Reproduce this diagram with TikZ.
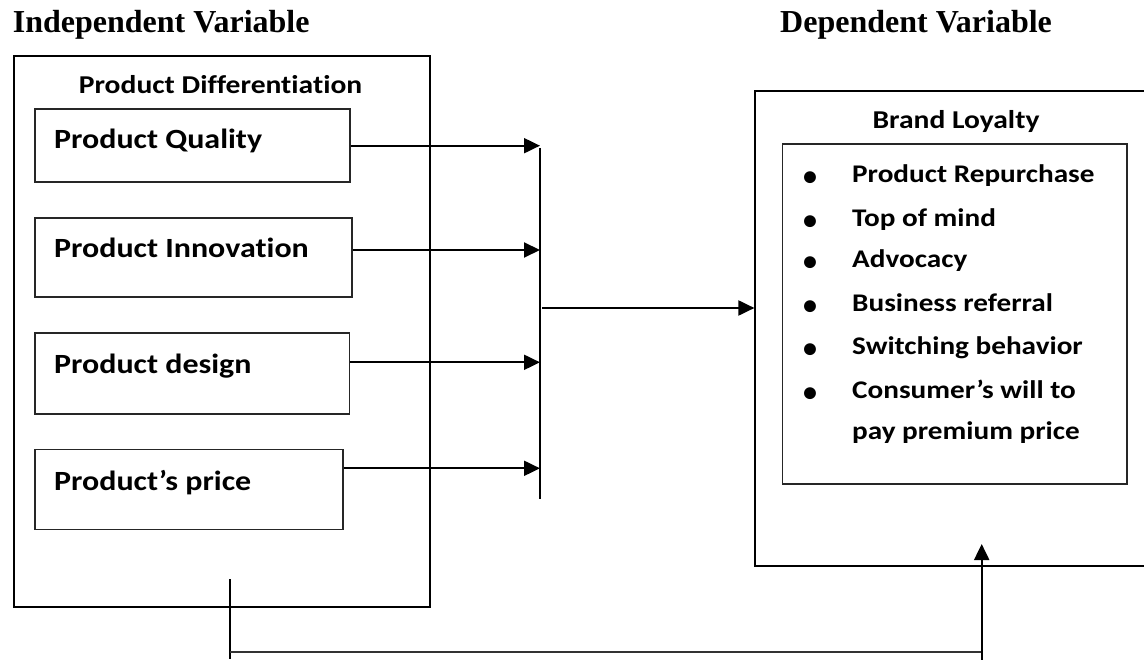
\documentclass[tikz,border=0pt]{standalone}
\usepackage{fontspec}
\setmainfont{Carlito}[FakeStretch=1.15,Ligatures=NoCommon]
\newfontfamily\bulf{Carlito}
\newfontfamily\timesf{Liberation Serif}
\usetikzlibrary{arrows.meta}
\begin{document}
\begin{tikzpicture}[x=1pt,y=-1pt,
  frame/.style={draw=black,line width=2pt,rectangle,inner sep=0pt},
  ibox/.style={draw=black!85,line width=1.8pt,rectangle,inner sep=0pt},
  title/.style={inner sep=0pt,anchor=base west,font=\timesf\bfseries\fontsize{32}{38}\selectfont},
  head/.style={inner sep=0pt,anchor=base,font=\bfseries\fontsize{25.7}{30}\selectfont},
  btext/.style={inner sep=0pt,anchor=base west,font=\bfseries\fontsize{27.8}{33}\selectfont},
  ltext/.style={inner sep=0pt,anchor=base west,font=\bfseries\fontsize{25.4}{30}\selectfont},
  bul/.style={inner sep=0pt,anchor=base,font=\bulf\bfseries\fontsize{28}{28}\selectfont},
  arr/.style={line width=2pt,-{Triangle[length=16pt,width=15pt]}},
  conn/.style={line width=2pt}
]
\useasboundingbox (0,0) rectangle (1144,660);
\clip (0,0) rectangle (1144,660);
\fill[white] (0,0) rectangle (1144,660);

% titles
\node[title] (tind) at (12.7,33) {Independent Variable};
\node[title] (tdep) at (780,33) {Dependent Variable};

% left outer box
\node[frame,minimum width=416pt,minimum height=551pt] (left) at (222,331.5) {};
\node[head] (pdiff) at (220.6,94) {Product Differentiation};

% inner boxes
\node[ibox,minimum width=315pt,minimum height=73pt] (q) at (192.5,145.5) {};
\node[ibox,minimum width=317pt,minimum height=79pt] (i) at (193.5,257.5) {};
\node[ibox,minimum width=314.5pt,minimum height=81pt] (d) at (192.25,373.5) {};
\node[ibox,minimum width=308pt,minimum height=80pt] (p) at (189,489.5) {};
\node[btext] (qt) at (54,149) {Product Quality};
\node[btext] (it) at (54,258) {Product Innovation};
\node[btext] (dt) at (54,373.3) {Product design};
\node[btext] (pt) at (54,490) {Product’s price};

% collecting bar
\coordinate (bartop) at (540,148);
\coordinate (barbot) at (540,499);
\coordinate (a1) at (540,145.7);
\coordinate (a2) at (540,250);
\coordinate (a3) at (540,362.3);
\coordinate (a4) at (540,468.3);
\draw[conn] (bartop) -- (barbot);
\draw[arr] (q.east |- a1) -- (a1);
\draw[arr] (i.east |- a2) -- (a2);
\draw[arr] (d.east |- a3) -- (a3);
\draw[arr] (p.east |- a4) -- (a4);

% right outer box
\node[frame,minimum width=420pt,minimum height=474.7pt] (right) at (965.4,328.35) {};
\node[head] (bl) at (956,129) {Brand Loyalty};
\node[ibox,minimum width=344.6pt,minimum height=340.3pt] (list) at (954.7,314.15) {};

\coordinate (mid) at (542,308);
\draw[arr] (mid) -- (mid -| right.west);

% bullet list
\foreach \yy/\txt [count=\k] in {182.7/Product Repurchase,226.7/Top of mind,268/Advocacy,311.7/Business referral,355/Switching behavior,398.3/Consumer’s will to}{
  \node[bul] (b\k) at (810,\yy+3) {\textbullet};
  \node[ltext] (l\k) at (852,\yy) {\txt};
}
\node[ltext] (l7) at (852,439.3) {pay premium price};

% bottom feedback connector
\coordinate (f1) at (230,579.3);
\coordinate (f2) at (230,659);
\coordinate (f3) at (230,652.3);
\coordinate (f4) at (980.5,652.3);
\coordinate (f5) at (981.7,664);
\coordinate (f6) at (981.7,544);
\draw[conn] (f1) -- (f2);
\draw[line width=1.8pt,black!80] (f3) -- (f4);
\draw[arr] (f5) -- (f6);
\end{tikzpicture}
\end{document}
